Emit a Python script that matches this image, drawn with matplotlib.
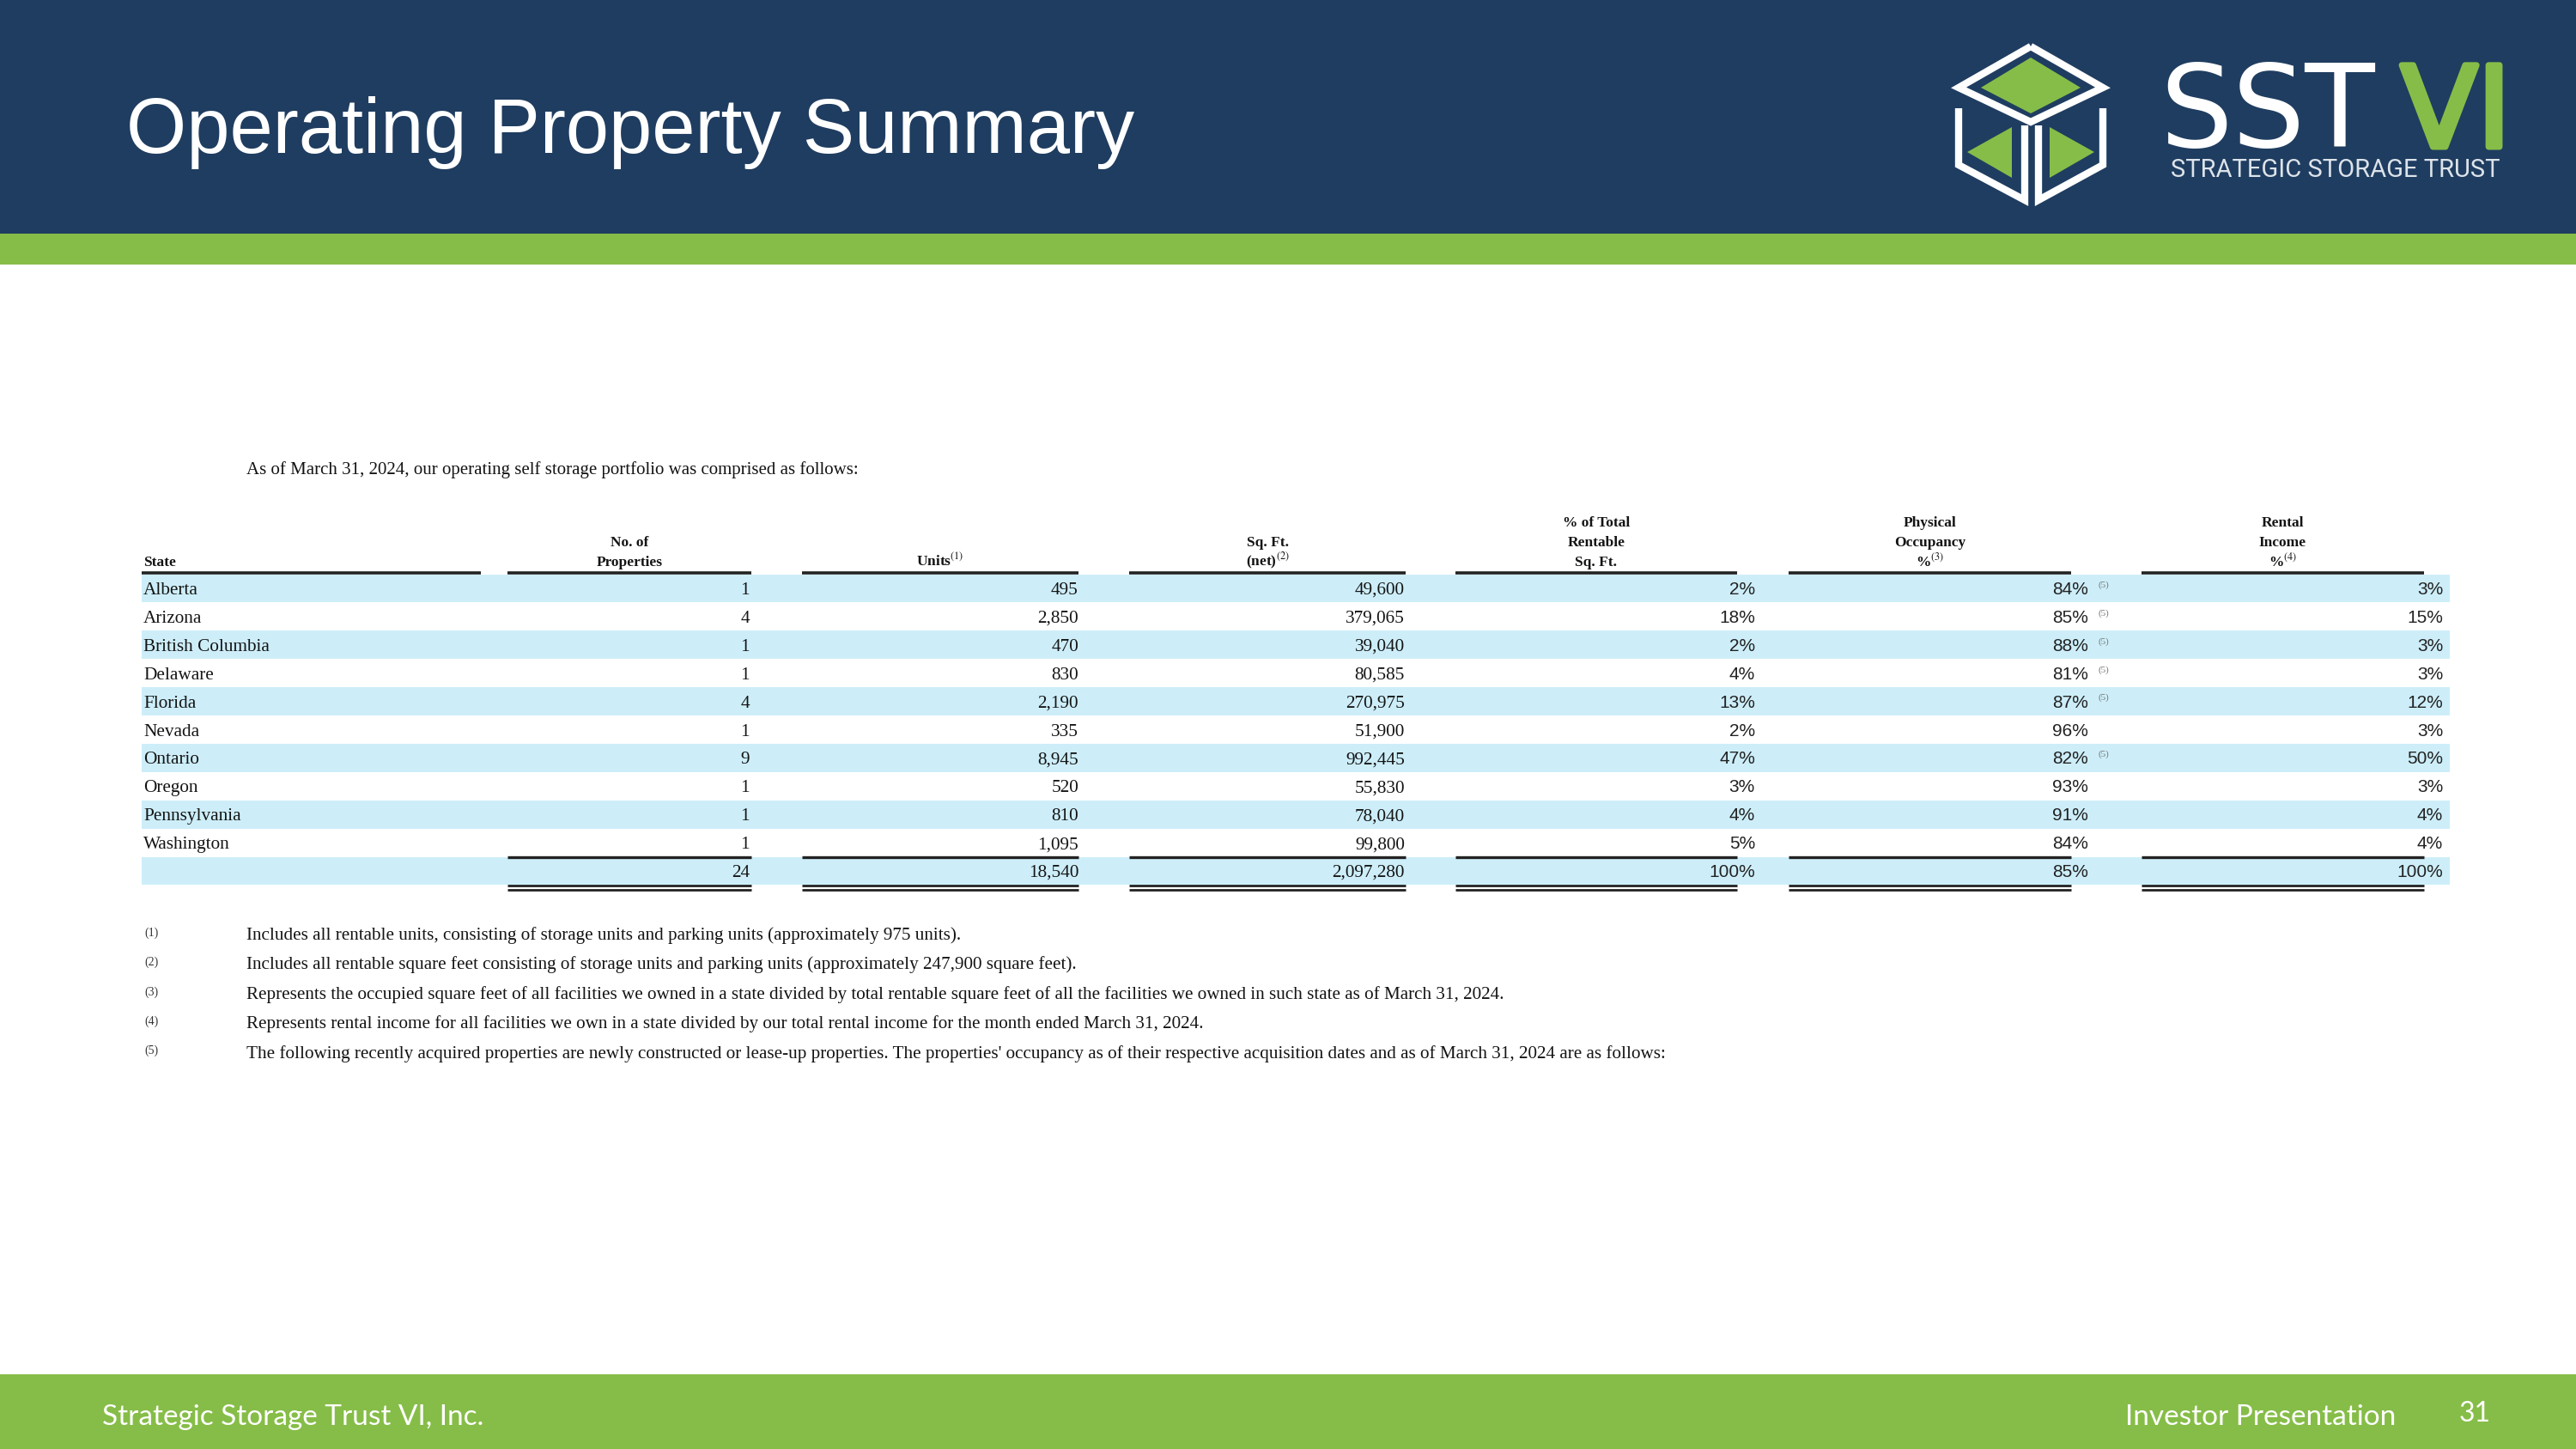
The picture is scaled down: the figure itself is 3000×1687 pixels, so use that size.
import matplotlib
matplotlib.use('Agg')
import matplotlib.pyplot as plt
import matplotlib.patheffects as pe
from matplotlib import font_manager
from matplotlib.patches import Rectangle, Polygon

plt.rcParams['mathtext.fontset'] = 'stix'

NAVY = '#1f3d60'
GREEN = '#86bd48'
BAND = '#cdeef9'
INK = '#141414'
SERIF = 'Liberation Serif'

# table data
states = ['Alberta', 'Arizona', 'British Columbia', 'Delaware', 'Florida',
          'Nevada', 'Ontario', 'Oregon', 'Pennsylvania', 'Washington']
num_properties = [1, 4, 1, 1, 4, 1, 9, 1, 1, 1]
units = [495, 2850, 470, 830, 2190, 335, 8945, 520, 810, 1095]
sq_ft = [49600, 379065, 39040, 80585, 270975, 51900, 992445, 55830, 78040, 99800]
pct_total_sq_ft = [2, 18, 2, 4, 13, 2, 47, 3, 4, 5]
occupancy_pct = [84, 85, 88, 81, 87, 96, 82, 93, 91, 84]
lease_up = [True, True, True, True, True, False, True, False, False, False]
rental_income_pct = [3, 15, 3, 3, 12, 3, 50, 3, 4, 4]
total_occupancy_pct = 85

headers = [['State'], ['No. of', 'Properties'], ['Units$^{(1)}$'],
           ['Sq. Ft.', '(net)$^{(2)}$'], ['% of Total', 'Rentable', 'Sq. Ft.'],
           ['Physical', 'Occupancy', '%$^{(3)}$'], ['Rental', 'Income', '%$^{(4)}$']]

intro = 'As of March 31, 2024, our operating self storage portfolio was comprised as follows:'
footnotes = [
    'Includes all rentable units, consisting of storage units and parking units (approximately 975 units).',
    'Includes all rentable square feet consisting of storage units and parking units (approximately 247,900 square feet).',
    'Represents the occupied square feet of all facilities we owned in a state divided by total rentable square feet of all the facilities we owned in such state as of March 31, 2024.',
    'Represents rental income for all facilities we own in a state divided by our total rental income for the month ended March 31, 2024.',
    "The following recently acquired properties are newly constructed or lease-up properties. The properties' occupancy as of their respective acquisition dates and as of March 31, 2024 are as follows:",
]

names = {f.name for f in font_manager.fontManager.ttflist}
if 'Liberation Sans Narrow' in names:
    PCT_FONT, PCT_SIZE = 'Liberation Sans Narrow', 17.5
else:
    PCT_FONT, PCT_SIZE = 'Liberation Sans', 15

# layout (pixel coordinates of the 3000x1687 canvas)
col_left = [165, 591, 934, 1315, 1695, 2083, 2494]
col_right = [560, 875, 1256, 1637, 2023, 2412, 2823]
value_right = [None, 873, 1256, 1636, 2044, 2432, 2845]
row_y0, pitch = 685, 32.9
band_x0, band_x1 = 165, 2853

fig = plt.figure(figsize=(30, 16.87), dpi=100)
ax = fig.add_axes([0, 0, 1, 1])
ax.set_xlim(0, 3000)
ax.set_ylim(1687, 0)
ax.axis('off')

# header / footer bands
ax.add_patch(Rectangle((0, 0), 3000, 272, color=NAVY, lw=0))
ax.add_patch(Rectangle((0, 272), 3000, 36, color=GREEN, lw=0))
ax.add_patch(Rectangle((0, 1600), 3000, 87, color=GREEN, lw=0))

ax.text(147, 178, 'Operating Property Summary', fontsize=65, color='white',
        family='Liberation Sans', va='baseline')

# logo icon
ax.add_patch(Polygon([(2365, 67), (2307, 102), (2365, 132), (2423, 102)], color=GREEN, lw=0))
ax.add_patch(Polygon([(2343, 148), (2291, 177), (2343, 207)], color=GREEN, lw=0))
ax.add_patch(Polygon([(2387, 148), (2439, 177), (2387, 207)], color=GREEN, lw=0))
wl = dict(color='white', lw=6, solid_joinstyle='miter', solid_capstyle='butt')
ax.plot([2365, 2281, 2365, 2449, 2365], [54, 102, 142, 102, 54], **wl)
ax.plot([2281, 2281, 2358, 2358], [126, 192, 233, 146], **wl)
ax.plot([2449, 2449, 2374, 2374], [126, 192, 233, 146], **wl)

ax.text(2515, 171, 'SST', fontsize=96, color='white', family='DejaVu Sans',
        va='baseline')
ax.text(2796, 171, 'VI', fontsize=94, color=GREEN, family='DejaVu Sans', va='baseline',
        path_effects=[pe.withStroke(linewidth=5, foreground=GREEN)])
ax.text(2720, 198, 'STRATEGIC STORAGE TRUST', fontsize=21, color='#dde3ea',
        family='Roboto', ha='center', va='center')

# intro line
ax.text(287, 547, intro, fontsize=15, family=SERIF, color=INK, va='center')

# column headers
for j, lines in enumerate(headers):
    n = len(lines)
    for k, line in enumerate(lines):
        y = 659 - (n - 1 - k) * 23
        if j == 0:
            ax.text(col_left[j] + 2, y, line, fontsize=12.5, fontweight='bold',
                    family=SERIF, color=INK, va='baseline')
        else:
            ax.text((col_left[j] + col_right[j]) / 2, y, line, fontsize=12.5,
                    fontweight='bold', family=SERIF, color=INK, ha='center', va='baseline')
    ax.plot([col_left[j], col_right[j]], [667, 667], color='#222222', lw=2.6,
            solid_capstyle='butt')

# rows
rows = []
for i in range(len(states)):
    rows.append([states[i], f'{num_properties[i]:,}', f'{units[i]:,}', f'{sq_ft[i]:,}',
                 f'{pct_total_sq_ft[i]}%', f'{occupancy_pct[i]}%', f'{rental_income_pct[i]}%'])
rows.append(['', f'{sum(num_properties):,}', f'{sum(units):,}', f'{sum(sq_ft):,}',
             f'{sum(pct_total_sq_ft)}%', f'{total_occupancy_pct}%', f'{sum(rental_income_pct)}%'])

for i, row in enumerate(rows):
    yc = row_y0 + i * pitch
    if i % 2 == 0:
        ax.add_patch(Rectangle((band_x0, yc - pitch / 2), band_x1 - band_x0, pitch,
                               color=BAND, lw=0, zorder=0))
    for j, val in enumerate(row):
        if j == 0:
            ax.text(col_left[0] + 2, yc + 7, val, fontsize=15.3, family=SERIF,
                    color=INK, va='baseline')
        elif j >= 4:
            ax.text(value_right[j], yc + 7, val, fontsize=PCT_SIZE, family=PCT_FONT,
                    color='#222222', ha='right', va='baseline')
        else:
            ax.text(value_right[j], yc + 7, val, fontsize=15.3, family=SERIF,
                    color=INK, ha='right', va='baseline')
    if i < len(states) and lease_up[i]:
        ax.text(2443, yc - 4, '(5)', fontsize=8, family=SERIF, color='#777777',
                va='center')

# total rules
y_top = row_y0 + (len(states) - 0.5) * pitch
y_bot = row_y0 + (len(states) + 0.5) * pitch
for j in range(1, len(col_left)):
    ax.plot([col_left[j], col_right[j]], [y_top, y_top], color='#222222', lw=2.4,
            solid_capstyle='butt')
    for dy in (1, 6):
        ax.plot([col_left[j], col_right[j]], [y_bot + dy, y_bot + dy], color='#222222',
                lw=2.0, solid_capstyle='butt')

# footnotes
for k, note in enumerate(footnotes):
    y = 1089 + k * 34.4
    ax.text(168, y - 3, f'({k + 1})', fontsize=10, family=SERIF, color='#333333',
            va='center')
    ax.text(287, y, note, fontsize=15.2, family=SERIF, color=INK, va='center')

# footer
ax.text(119, 1650, 'Strategic Storage Trust VI, Inc.', fontsize=24, family='Lato',
        color='white', va='center')
ax.text(2790, 1650, 'Investor Presentation', fontsize=24, family='Lato',
        color='white', va='center', ha='right')
ax.text(2882, 1646, '31', fontsize=23, family='Lato', color='white', va='center',
        ha='center')

fig.savefig('out.png', dpi=100)
